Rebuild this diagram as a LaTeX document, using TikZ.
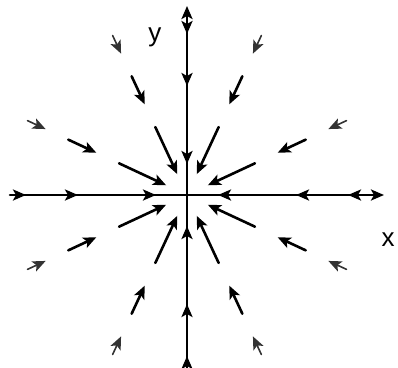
\documentclass[tikz,border=0pt]{standalone}
\usepackage{fontspec}
\setmainfont{Liberation Sans}
\usetikzlibrary{arrows.meta}
\tikzset{fieldarrow/.style={line width=2.6pt, -{Stealth[length=13pt,width=11pt,inset=3pt]}}}
\begin{document}
\begin{tikzpicture}[x=1pt, y=1pt, line join=round, line cap=round, font=\fontsize{26}{26}\selectfont]
	\useasboundingbox (-187,-172) rectangle (211,195);
	\coordinate (O) at (0,0);
	\coordinate (xl) at (-177,0); \coordinate (xr) at (197,0);
	\coordinate (yb) at (0,-167); \coordinate (yt) at (0,189);
	\draw[fieldarrow] (xl) -- (xr);
	\draw[fieldarrow] (yb) -- (yt);
	\node (ylab) at (-32,158) {y};
	\node (xlab) at (201,-45) {x};
	% marks on the axes
	\foreach \a in {0,90,180,270}{
		\foreach \r in {35,113,165}{
			\coordinate (m\a-\r) at (\a:{\r+10});
			\coordinate (n\a-\r) at (\a:{\r-4});
			\draw[fieldarrow] (m\a-\r) -- (n\a-\r);}}
	% arrows off the axes
	\foreach \a [count=\k] in {25,65,115,155,205,245,295,335}{
		\coordinate (a\k) at (\a:75); \coordinate (b\k) at (\a:23);
		\coordinate (c\k) at (\a:131); \coordinate (d\k) at (\a:100);
		\coordinate (e\k) at (\a:176); \coordinate (f\k) at (\a:156);
		\draw[fieldarrow] (a\k) -- (b\k);
		\draw[fieldarrow] (c\k) -- (d\k);
		\draw[fieldarrow, black!80, line width=1.6pt] (e\k) -- (f\k);}
\end{tikzpicture}
\end{document}
